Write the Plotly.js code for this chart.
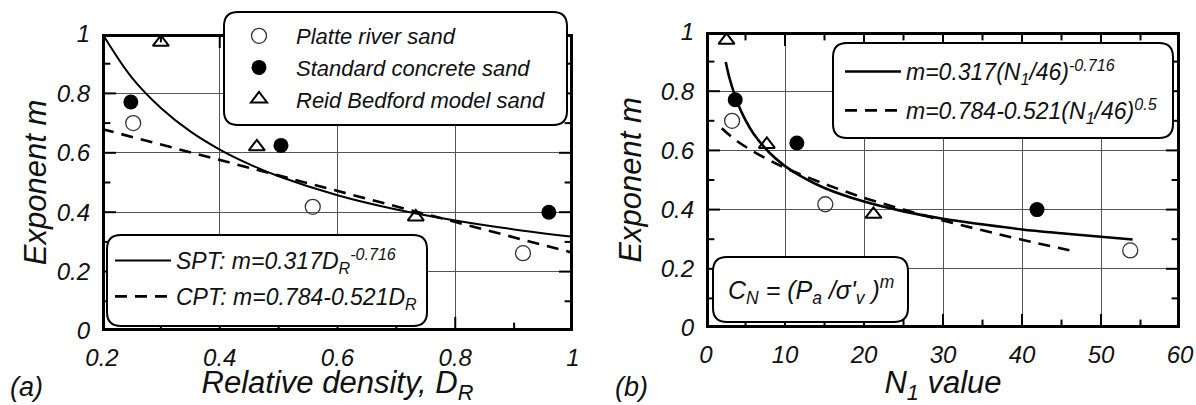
<!DOCTYPE html>
<html>
<head>
<meta charset="utf-8">
<script src="https://cdn.plot.ly/plotly-3.0.1.min.js"></script>
<style>
  html, body { margin: 0; padding: 0; background: #fff; overflow: hidden; }
  #chart { width: 1196px; height: 405px; }
</style>
</head>
<body>
<div id="chart"></div>
<script>
// ---------------- data ----------------
// (a) relative density D_R of each sand
var drPlatte   = [0.253, 0.558, 0.915];
var drConcrete = [0.249, 0.504, 0.959];
var drReid     = [0.300, 0.463, 0.733];
// exponent m (same points in both panels)
var mPlatte    = [0.700, 0.418, 0.262];
var mConcrete  = [0.771, 0.625, 0.400];
var mReid      = [0.972, 0.620, 0.384];
// (b) N1 values
var n1Platte   = [3.3, 15.1, 53.7];
var n1Concrete = [3.7, 11.5, 41.9];
var n1Reid     = [2.6, 7.7, 21.2];

// fitted curves
var sptDr = [0.20, 0.25, 0.30, 0.35, 0.40, 0.45, 0.50, 0.60, 0.70, 0.80, 0.90, 1.00];
var sptM  = [1.003, 0.855, 0.751, 0.672, 0.611, 0.562, 0.521, 0.457, 0.409, 0.372, 0.342, 0.317];
var cptDr = [0.20, 1.00];
var cptM  = [0.680, 0.263];

var sptN  = [2.5, 3, 4, 5, 6, 8, 10, 12, 15, 20, 25, 30, 35, 40, 45, 50, 54];
var sptNM = [0.899, 0.842, 0.760, 0.702, 0.657, 0.593, 0.547, 0.513, 0.473, 0.427, 0.394, 0.369, 0.350, 0.333, 0.320, 0.308, 0.299];
var cptN  = [2, 3, 4, 6, 8, 10, 15, 20, 25, 30, 35, 40, 46];
var cptNM = [0.675, 0.651, 0.630, 0.596, 0.567, 0.541, 0.487, 0.440, 0.400, 0.363, 0.330, 0.298, 0.263];

// axis ranges and tick positions
var rangeXA = [0.2, 1];
var rangeXB = [0, 60];
var rangeY  = [0, 1];
var xTicksA = [0.2, 0.4, 0.6, 0.8, 1.0];
var xMinorA = [0.3, 0.5, 0.7, 0.9];
var xTicksB = [0, 10, 20, 30, 40, 50, 60];
var xMinorB = [5, 15, 25, 35, 45, 55];
var yTicks  = [0, 0.2, 0.4, 0.6, 0.8, 1.0];
var yMinor  = [0.1, 0.3, 0.5, 0.7, 0.9];

var seriesNames = ['Platte river sand', 'Standard concrete sand', 'Reid Bedford model sand'];
var curveNamesA = ['SPT: m=0.317D<sub>R</sub><sup>-0.716</sup>', 'CPT: m=0.784-0.521D<sub>R</sub>'];
var curveNamesB = ['m=0.317(N<sub>1</sub>/46)<sup>-0.716</sup>', 'm=0.784-0.521(N<sub>1</sub>/46)<sup>0.5</sup>'];
var xTitleA = 'Relative density, D<sub>R</sub>';
var xTitleB = 'N<sub>1</sub> value';
var yTitle  = 'Exponent m';
var formulaText = 'C<sub>N</sub> = (P<sub>a</sub> /σ\'<sub>v</sub> )<sup>m</sup>';

// ---------------- layout helpers ----------------
var W = 1196, H = 405;
function px(x) { return x / W; }
function py(y) { return 1 - y / H; }
function roundBox(x0, y0, x1, y1, r) {
  var rx = r / W, ry = r / H;
  var a = px(x0), b = px(x1), t = py(y0), u = py(y1);
  return 'M' + (a + rx) + ',' + t +
    ' L' + (b - rx) + ',' + t + ' Q' + b + ',' + t + ' ' + b + ',' + (t - ry) +
    ' L' + b + ',' + (u + ry) + ' Q' + b + ',' + u + ' ' + (b - rx) + ',' + u +
    ' L' + (a + rx) + ',' + u + ' Q' + a + ',' + u + ' ' + a + ',' + (u + ry) +
    ' L' + a + ',' + (t - ry) + ' Q' + a + ',' + t + ' ' + (a + rx) + ',' + t + ' Z';
}
function it(s) { return '<i>' + s + '</i>'; }

var FONT = 'Liberation Sans, Arial, Helvetica, sans-serif';

function openCircle() { return { symbol: 'circle-open', size: 15, color: '#333', line: { width: 1.3 } }; }
function filledCircle() { return { symbol: 'circle', size: 15, color: '#000' }; }
function openTri() { return { symbol: 'triangle-up-open', size: 14, color: '#000', line: { width: 2 } }; }

var traces = [
  // panel (a) points
  { x: drPlatte, y: mPlatte, type: 'scatter', mode: 'markers', name: it(seriesNames[0]), marker: openCircle(), xaxis: 'x', yaxis: 'y', legend: 'legend', legendgroup: 'g1' },
  { x: drConcrete, y: mConcrete, type: 'scatter', mode: 'markers', name: it(seriesNames[1]), marker: filledCircle(), xaxis: 'x', yaxis: 'y', legend: 'legend', legendgroup: 'g2' },
  { x: drReid, y: mReid, type: 'scatter', mode: 'markers', name: it(seriesNames[2]), marker: openTri(), xaxis: 'x', yaxis: 'y', legend: 'legend', legendgroup: 'g3' },
  // panel (a) curves
  { x: sptDr, y: sptM, type: 'scatter', mode: 'lines', line: { shape: 'spline', color: '#000', width: 2 }, name: it(curveNamesA[0]), xaxis: 'x', yaxis: 'y', legend: 'legend2', legendgroup: 'c1' },
  { x: cptDr, y: cptM, type: 'scatter', mode: 'lines', line: { color: '#000', width: 2.6, dash: '12px,8px' }, name: it(curveNamesA[1]), xaxis: 'x', yaxis: 'y', legend: 'legend2', legendgroup: 'c2' },
  // panel (b) curves
  { x: sptN, y: sptNM, type: 'scatter', mode: 'lines', line: { shape: 'spline', color: '#000', width: 2.6 }, name: it(curveNamesB[0]), xaxis: 'x2', yaxis: 'y2', legend: 'legend3', legendgroup: 'd1' },
  { x: cptN, y: cptNM, type: 'scatter', mode: 'lines', line: { shape: 'spline', color: '#000', width: 2.6, dash: '12px,8px' }, name: it(curveNamesB[1]), xaxis: 'x2', yaxis: 'y2', legend: 'legend3', legendgroup: 'd2' },
  // panel (b) points
  { x: n1Platte, y: mPlatte, type: 'scatter', mode: 'markers', name: seriesNames[0], marker: openCircle(), xaxis: 'x2', yaxis: 'y2', showlegend: false },
  { x: n1Concrete, y: mConcrete, type: 'scatter', mode: 'markers', name: seriesNames[1], marker: filledCircle(), xaxis: 'x2', yaxis: 'y2', showlegend: false },
  { x: n1Reid, y: mReid, type: 'scatter', mode: 'markers', name: seriesNames[2], marker: openTri(), xaxis: 'x2', yaxis: 'y2', showlegend: false }
];

// ---- frame and inward tick marks, drawn as clipped traces on each subplot ----
function frameTrace(xa, ya, xr, yr) {
  return { x: [xr[0], xr[1], xr[1], xr[0], xr[0]], y: [yr[0], yr[0], yr[1], yr[1], yr[0]],
    type: 'scatter', mode: 'lines', line: { color: '#000', width: 6 }, xaxis: xa, yaxis: ya,
    showlegend: false, hoverinfo: 'skip' };
}
function xTickTrace(xa, ya, vals, yr, len) {
  var ys = vals.map(function () { return yr[0]; }).concat(vals.map(function () { return yr[1]; }));
  return { x: vals.concat(vals), y: ys, type: 'scatter', mode: 'markers', xaxis: xa, yaxis: ya,
    marker: { symbol: 'line-ns', size: 2 * len, color: '#000', line: { color: '#000', width: 2 } },
    showlegend: false, hoverinfo: 'skip' };
}
function yTickTrace(xa, ya, vals, xr, len) {
  var xs = vals.map(function () { return xr[0]; }).concat(vals.map(function () { return xr[1]; }));
  return { x: xs, y: vals.concat(vals), type: 'scatter', mode: 'markers', xaxis: xa, yaxis: ya,
    marker: { symbol: 'line-ew', size: 2 * len, color: '#000', line: { color: '#000', width: 2 } },
    showlegend: false, hoverinfo: 'skip' };
}
traces.push(
  xTickTrace('x', 'y', xTicksA, rangeY, 10), xTickTrace('x', 'y', xMinorA, rangeY, 6),
  yTickTrace('x', 'y', yTicks, rangeXA, 10), yTickTrace('x', 'y', yMinor, rangeXA, 6),
  xTickTrace('x2', 'y2', xTicksB, rangeY, 10), xTickTrace('x2', 'y2', xMinorB, rangeY, 6),
  yTickTrace('x2', 'y2', yTicks, rangeXB, 10), yTickTrace('x2', 'y2', yMinor, rangeXB, 6),
  frameTrace('x', 'y', rangeXA, rangeY), frameTrace('x2', 'y2', rangeXB, rangeY)
);

function axisCommon(extra) {
  var a = {
    showline: false, ticks: '', mirror: false,
    showgrid: true, gridcolor: '#555', gridwidth: 1, zeroline: false,
    tickfont: { family: FONT, size: 24, color: '#111', style: 'italic' }
  };
  return Object.assign(a, extra);
}

var xa = axisCommon({ domain: [px(102), px(573)], range: rangeXA, tickvals: xTicksA, anchor: 'y', ticklabelstandoff: 10,
  title: { text: it(xTitleA), standoff: 4, font: { family: FONT, size: 31, color: '#111' } } });
var ya = axisCommon({ domain: [py(331), py(34)], range: rangeY, tickvals: yTicks, anchor: 'x', ticklabelstandoff: 11,
  title: { text: it(yTitle), standoff: 0, font: { family: FONT, size: 31, color: '#111' } } });
var xb = axisCommon({ domain: [px(706), px(1180)], range: rangeXB, tickvals: xTicksB, anchor: 'y2', ticklabelstandoff: 10,
  title: { text: it(xTitleB), standoff: 4, font: { family: FONT, size: 31, color: '#111' } } });
var yb = axisCommon({ domain: [py(328), py(32)], range: rangeY, tickvals: yTicks, anchor: 'x2', ticklabelstandoff: 11,
  title: { text: it(yTitle), standoff: 9, font: { family: FONT, size: 31, color: '#111' } } });

var boxStyle = { type: 'path', xref: 'paper', yref: 'paper', layer: 'above', fillcolor: '#fff', line: { color: '#000', width: 2 } };

var layout = {
  width: W, height: H,
  margin: { l: 0, r: 0, t: 0, b: 0, autoexpand: false },
  paper_bgcolor: '#fff', plot_bgcolor: '#fff',
  showlegend: true,
  xaxis: xa, yaxis: ya, xaxis2: xb, yaxis2: yb,
  legend: { x: px(222), y: py(15), xanchor: 'left', yanchor: 'top', bgcolor: 'rgba(0,0,0,0)', borderwidth: 0,
    font: { family: FONT, size: 22, color: '#111' }, itemwidth: 64, traceorder: 'grouped', tracegroupgap: 0 },
  legend2: { x: px(110), y: py(239), xanchor: 'left', yanchor: 'top', bgcolor: 'rgba(0,0,0,0)', borderwidth: 0,
    font: { family: FONT, size: 23, color: '#111' }, itemwidth: 56, traceorder: 'grouped', tracegroupgap: 3 },
  legend3: { x: px(840), y: py(50), xanchor: 'left', yanchor: 'top', bgcolor: 'rgba(0,0,0,0)', borderwidth: 0,
    font: { family: FONT, size: 23, color: '#111' }, itemwidth: 56, traceorder: 'grouped', tracegroupgap: 6 },
  shapes: [
    Object.assign({ path: roundBox(224, 12, 567, 125, 14) }, boxStyle),
    Object.assign({ path: roundBox(107, 235, 427, 326, 14) }, boxStyle),
    Object.assign({ path: roundBox(833, 43, 1173, 138, 14) }, boxStyle),
    Object.assign({ path: roundBox(713, 257, 908, 322, 14) }, boxStyle)
  ],
  annotations: [
    { xref: 'paper', yref: 'paper', x: px(811), y: py(290), text: it(formulaText), showarrow: false,
      font: { family: FONT, size: 25, color: '#111' }, xanchor: 'center', yanchor: 'middle' },
    { xref: 'paper', yref: 'paper', x: px(8), y: py(387), text: it('(a)'), showarrow: false,
      font: { family: FONT, size: 27, color: '#111' }, xanchor: 'left', yanchor: 'middle' },
    { xref: 'paper', yref: 'paper', x: px(613), y: py(387), text: it('(b)'), showarrow: false,
      font: { family: FONT, size: 27, color: '#111' }, xanchor: 'left', yanchor: 'middle' }
  ]
};

Plotly.newPlot('chart', traces, layout, { displayModeBar: false, staticPlot: true });
</script>
</body>
</html>
